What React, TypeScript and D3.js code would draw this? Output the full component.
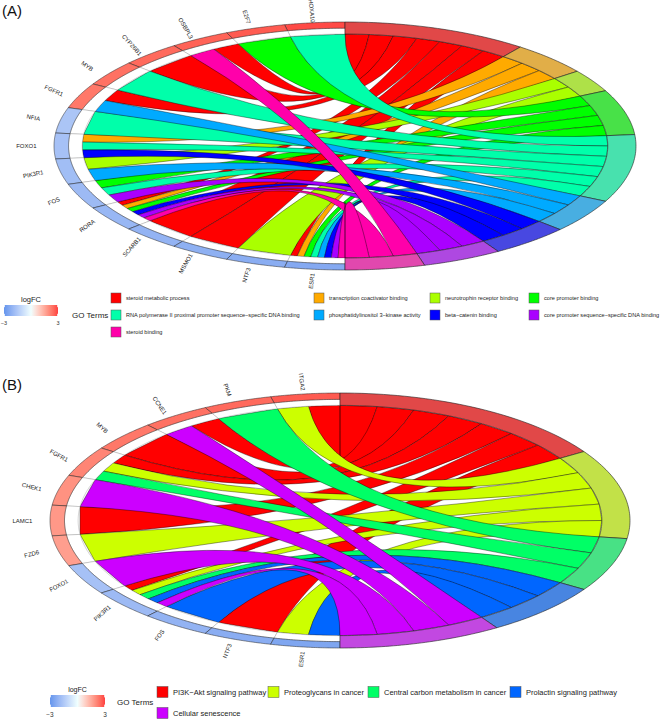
import React from 'react';
import * as d3 from 'd3';

// ---------- Panel A data ----------
const genesA = ['HOXA10', 'E2F7', 'OSBPL3', 'CYP26B1', 'MYB', 'FGFR1', 'NFIA', 'FOXO1', 'PIK3R1', 'FOS', 'RORA', 'SCARB1', 'MSMO1', 'NTF3', 'ESR1'];
const logFCA = [2.9, 2.7, 2.6, 2.5, 2.4, 2.3, -1.6, -1.7, -1.8, -1.9, -2.0, -2.1, -2.2, -2.3, -2.4];
const termsA = [
  'steroid metabolic process',
  'transcription coactivator binding',
  'neurotrophin receptor binding',
  'core promoter binding',
  'RNA polymerase II proximal promoter sequence\u2212specific DNA binding',
  'phosphatidylinositol 3\u2212kinase activity',
  'beta\u2212catenin binding',
  'core promoter sequence\u2212specific DNA binding',
  'steroid binding',
];
const colorsA = ['#FF0000', '#FFAA00', '#AAFF00', '#00FF00', '#00FFAA', '#00AAFF', '#0000FF', '#AA00FF', '#FF00AA'];
// term indices linked to each gene (same order as genesA)
const linksA = [
  [4], [3], [0, 8], [0], [4], [0, 5], [4], [1, 4, 6], [2, 5], [3, 4, 7],
  [0, 1, 3, 6, 7, 8], [0], [0], [2], [0, 1, 3, 4, 5, 6, 7, 8],
];

// ---------- Panel B data ----------
const genesB = ['ITGA2', 'PKM', 'CCNE1', 'MYB', 'FGFR1', 'CHEK1', 'LAMC1', 'FZD6', 'FOXO1', 'PIK3R1', 'FOS', 'NTF3', 'ESR1'];
const logFCB = [2.7, 2.5, 2.4, 2.3, 2.1, 1.9, 1.8, 1.7, -1.7, -1.9, -2.1, -2.3, -2.5];
const termsB = [
  'PI3K\u2212Akt signaling pathway',
  'Proteoglycans in cancer',
  'Central carbon metabolism in cancer',
  'Prolactin signaling pathway',
  'Cellular senescence',
];
const colorsB = ['#FF0000', '#CCFF00', '#00FF66', '#0066FF', '#CC00FF'];
const linksB = [
  [0, 1], [2], [0, 4], [0], [0, 1, 2], [4], [0], [1], [4], [0, 1, 2, 3, 4], [3], [0], [1, 3],
];

const lfcTicks = [-3, 3];

const FONT = "'Liberation Sans', Arial, Helvetica, sans-serif";

const lfcColor = d3
  .scaleLinear<string>()
  .domain([-3, 0, 3])
  .range(['#6495ED', '#F0FFFF', '#FF4040'])
  .interpolate(d3.interpolateLab);

const mixGray = (c: string) => d3.interpolateRgb('#B3B3B3', c)(0.6);

type ChordProps = {
  genes: string[];
  logFC: number[];
  colors: string[];
  links: number[][];
  cx: number;
  cy: number;
  rx: number;
  ry: number;
  nTerms: number;
  labelSize: number;
};

function Chord({ genes, logFC, colors, links, cx, cy, rx, ry, nTerms, labelSize }: ChordProps) {
  const x = d3.scaleLinear().domain([-1, 1]).range([cx - rx, cx + rx]);
  const y = d3.scaleLinear().domain([-1, 1]).range([cy + ry, cy - ry]);
  const rad = (deg: number) => (deg * Math.PI) / 180;
  // clock angle: degrees clockwise from top
  const P = (a: number, r: number): [number, number] => [x(r * Math.sin(rad(a))), y(r * Math.cos(rad(a)))];

  const R_IN = 0.903;
  const R_MID = 0.95;
  const R_OUT = 1.0;

  const arcPoly = (a1: number, a2: number, r1: number, r2: number) => {
    const n = 40;
    const pts: [number, number][] = [];
    for (let i = 0; i <= n; i++) pts.push(P(a1 + ((a2 - a1) * i) / n, r2));
    for (let i = n; i >= 0; i--) pts.push(P(a1 + ((a2 - a1) * i) / n, r1));
    return d3.line()(pts)! + 'Z';
  };

  const nG = genes.length;
  const gStep = 180 / nG;
  const counts = d3.range(nTerms).map((k) => links.filter((l) => l.includes(k)).length);
  const total = d3.sum(counts);
  const unit = 180 / total;
  const termStart: number[] = [];
  let acc = 0;
  counts.forEach((c) => {
    termStart.push(acc);
    acc += c * unit;
  });

  const ribbons: { d: string; fill: string; key: string }[] = [];
  for (let k = 0; k < nTerms; k++) {
    let m = 0;
    for (let g = 0; g < nG; g++) {
      const j = links[g].indexOf(k);
      if (j < 0) continue;
      const nl = links[g].length;
      const psi1 = g * gStep + (j * gStep) / nl;
      const psi2 = g * gStep + ((j + 1) * gStep) / nl;
      const phi1 = termStart[k] + m * unit;
      const phi2 = phi1 + unit;
      m++;
      const p = d3.path();
      const g1 = P(-psi1, R_IN);
      const g2 = P(-psi2, R_IN);
      const t1 = P(phi1, R_IN);
      const t2 = P(phi2, R_IN);
      p.moveTo(g1[0], g1[1]);
      p.quadraticCurveTo(x(0), y(0), t1[0], t1[1]);
      p.lineTo(t2[0], t2[1]);
      p.quadraticCurveTo(x(0), y(0), g2[0], g2[1]);
      p.closePath();
      ribbons.push({ d: p.toString(), fill: colors[k], key: `${k}-${g}` });
    }
  }

  return (
    <g>
      {ribbons.map((r) => (
        <path key={r.key} d={r.d} fill={r.fill} stroke="#000" strokeWidth={0.45} strokeOpacity={0.85} />
      ))}
      {genes.map((gname, g) => (
        <g key={gname}>
          <path d={arcPoly(-g * gStep, -(g + 1) * gStep, R_IN, R_MID)} fill="#fff" stroke="#555" strokeWidth={0.25} />
          <path d={arcPoly(-g * gStep, -(g + 1) * gStep, R_MID, R_OUT)} fill={lfcColor(logFC[g])} stroke="#222" strokeWidth={0.5} />
        </g>
      ))}
      {counts.map((c, k) => (
        <path key={'t' + k} d={arcPoly(termStart[k], termStart[k] + c * unit, R_IN, R_OUT)} fill={mixGray(colors[k])} stroke="#222" strokeWidth={0.6} />
      ))}
      {genes.map((gname, g) => {
        const mid = (g + 0.5) * gStep;
        const [lx, ly] = P(-mid, 1.095);
        return (
          <text
            key={'l' + gname}
            x={lx}
            y={ly}
            transform={`rotate(${90 - mid},${lx},${ly})`}
            textAnchor="middle"
            dominantBaseline="central"
            fontSize={labelSize}
            fontFamily={FONT}
            fill="#222"
          >
            {gname}
          </text>
        );
      })}
    </g>
  );
}

function LfcLegend({ x0, y0, w, h, id, titleSize, tickSize }: { x0: number; y0: number; w: number; h: number; id: string; titleSize: number; tickSize: number }) {
  const sx = d3.scaleLinear().domain([-3, 3]).range([x0, x0 + w]);
  const stops = d3.range(-3, 3.01, 0.5);
  return (
    <g>
      <defs>
        <linearGradient id={id} x1="0" x2="1" y1="0" y2="0">
          {stops.map((s) => (
            <stop key={s} offset={(s + 3) / 6} stopColor={lfcColor(s)} />
          ))}
        </linearGradient>
      </defs>
      <text x={x0 + w / 2} y={y0 - 3} textAnchor="middle" fontSize={titleSize} fontFamily={FONT} fill="#222">
        logFC
      </text>
      <rect x={x0} y={y0} width={w} height={h} fill={`url(#${id})`} />
      {lfcTicks.map((t) => (
        <g key={t}>
          <line x1={sx(t) + (t < 0 ? 0.5 : -0.5)} x2={sx(t) + (t < 0 ? 0.5 : -0.5)} y1={y0} y2={y0 + h * 0.2} stroke="#fff" strokeWidth={0.8} />
          <line x1={sx(t) + (t < 0 ? 0.5 : -0.5)} x2={sx(t) + (t < 0 ? 0.5 : -0.5)} y1={y0 + h * 0.8} y2={y0 + h} stroke="#fff" strokeWidth={0.8} />
          <text x={sx(t)} y={y0 + h + tickSize + 3} textAnchor="middle" fontSize={tickSize} fontFamily={FONT} fill="#333">
            {t < 0 ? '\u2212' + Math.abs(t) : String(t)}
          </text>
        </g>
      ))}
    </g>
  );
}

function TermLegend({ terms, colors, colX, rowY, box, textSize }: { terms: string[]; colors: string[]; colX: number[]; rowY: number[]; box: number; textSize: number }) {
  const nc = colX.length;
  return (
    <g>
      {terms.map((t, i) => {
        const cxp = colX[i % nc];
        const cyp = rowY[Math.floor(i / nc)];
        return (
          <g key={t}>
            <rect x={cxp} y={cyp - box / 2} width={box} height={box} fill={colors[i]} stroke="#555" strokeWidth={0.5} />
            <text x={cxp + box + 5} y={cyp} dominantBaseline="central" fontSize={textSize} fontFamily={FONT} fill="#222">
              {t}
            </text>
          </g>
        );
      })}
    </g>
  );
}

export default function App() {
  return (
    <svg width={667} height={722} style={{ position: 'absolute', left: 0, top: 0, background: '#fff' }}>
      <rect width={667} height={722} fill="#fff" />
      <text x={2} y={16} fontSize={15} fontFamily={FONT} fill="#111">(A)</text>
      <Chord genes={genesA} logFC={logFCA} colors={colorsA} links={linksA} cx={345} cy={146} rx={291} ry={124} nTerms={termsA.length} labelSize={6} />
      <LfcLegend x0={4} y0={305} w={54} h={11} id="gA" titleSize={7.5} tickSize={5.5} />
      <text x={72} y={315} dominantBaseline="central" fontSize={8} fontFamily={FONT} fill="#222">GO Terms</text>
      <TermLegend terms={termsA} colors={colorsA} colX={[111, 314, 430, 529]} rowY={[298, 315, 332]} box={10} textSize={5.6} />

      <text x={2} y={390} fontSize={15} fontFamily={FONT} fill="#111">(B)</text>
      <Chord genes={genesB} logFC={logFCB} colors={colorsB} links={linksB} cx={340} cy={520.5} rx={290} ry={127.5} nTerms={termsB.length} labelSize={6} />
      <LfcLegend x0={50} y0={695} w={55} h={12} id="gB" titleSize={7} tickSize={6.5} />
      <text x={117} y={702} dominantBaseline="central" fontSize={8} fontFamily={FONT} fill="#222">GO Terms</text>
      <TermLegend terms={termsB} colors={colorsB} colX={[157, 268, 368, 510]} rowY={[692, 713]} box={11} textSize={7.5} />
    </svg>
  );
}
